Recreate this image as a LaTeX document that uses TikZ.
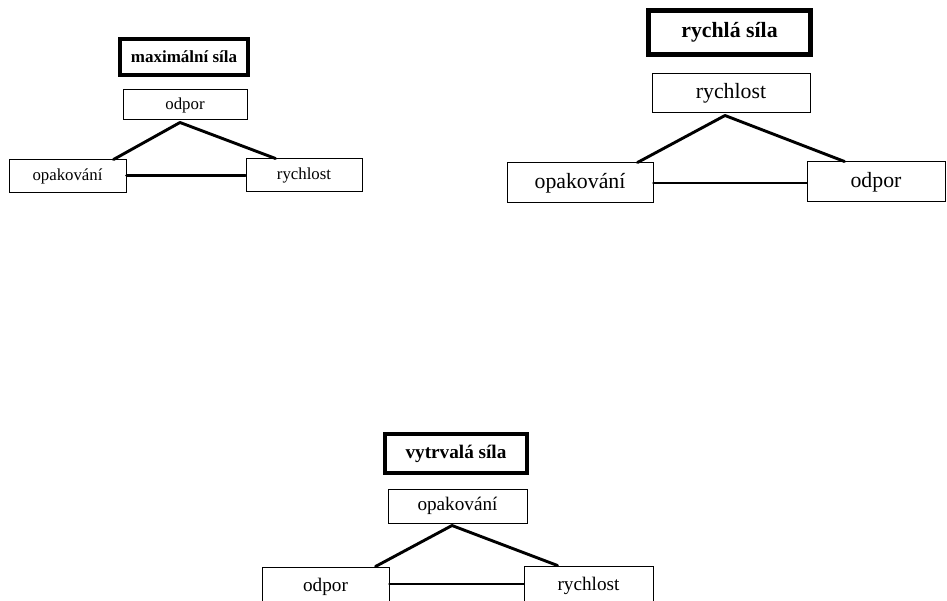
\documentclass[tikz,border=0pt]{standalone}
\usepackage{fontspec}
\setmainfont{Liberation Serif}
\begin{document}
\begin{tikzpicture}[x=1pt,y=-1pt,
  box/.style={draw=black,line width=1pt,inner sep=0pt,minimum width=#1},
  titlebox/.style={draw=black,inner sep=0pt,font=\bfseries},
  link/.style={line width=2.9pt,line cap=round},
  fa/.style={font=\fontsize{16.8}{19}\selectfont},
  fb/.style={font=\fontsize{21.8}{25}\selectfont},
  fc/.style={font=\fontsize{19.2}{22}\selectfont}]
\useasboundingbox (0,0) rectangle (947,601);
\clip (0,0) rectangle (947,601);
% diagram 1
\node[titlebox,line width=4pt,minimum width=128pt,minimum height=36pt,font=\bfseries\fontsize{17}{19}\selectfont] (t1) at (184,57) {maximální síla};
\node[box=124pt,minimum height=30pt,fa] (odpor1) at (185,105) {odpor};
\node[box=117pt,minimum height=33pt,fa] (opak1) at (67.5,176.5) {opakování};
\node[box=116pt,minimum height=33pt,fa] (rych1) at (304,175.5) {rychlost};
\draw[link] ([xshift=-5pt,yshift=-2pt]odpor1.south) -- ([xshift=-13pt]opak1.north east);
\draw[link] ([xshift=-5pt,yshift=-2pt]odpor1.south) -- ([xshift=30pt]rych1.north west);
\draw[link] ([yshift=1pt]opak1.east) -- ([yshift=1pt]opak1.east -| rych1.west);
% diagram 2
\node[titlebox,line width=5pt,minimum width=162pt,minimum height=44pt,font=\bfseries\fontsize{21.8}{25}\selectfont] (t2) at (729.5,32.5) {rychlá síla};
\node[box=158pt,minimum height=39pt,fb] (rych2) at (731,93.5) {rychlost};
\node[box=146pt,minimum height=40pt,fb] (opak2) at (580,183) {opakování};
\node[box=138pt,minimum height=40pt,fb] (odpor2) at (876,182) {odpor};
\draw[link] ([xshift=-6pt,yshift=-2pt]rych2.south) -- ([xshift=-16pt]opak2.north east);
\draw[link] ([xshift=-6pt,yshift=-2pt]rych2.south) -- ([xshift=38pt]odpor2.north west);
\draw[link] (opak2.east) -- (opak2.east -| odpor2.west);
% diagram 3
\node[titlebox,line width=4pt,minimum width=142pt,minimum height=39pt,font=\bfseries\fontsize{19.2}{22}\selectfont] (t3) at (456,453.5) {vytrvalá síla};
\node[box=139pt,minimum height=34pt,fc] (opak3) at (457.5,506) {opakování};
\node[box=127pt,minimum height=40pt,fc] (odpor3) at (325.5,587) {odpor};
\node[box=129pt,minimum height=40pt,fc] (rych3) at (588.5,586) {rychlost};
\draw[link] ([xshift=-5.5pt,yshift=-2pt]opak3.south) -- ([xshift=-14pt]odpor3.north east);
\draw[link] ([xshift=-5.5pt,yshift=-2pt]opak3.south) -- ([xshift=34pt]rych3.north west);
\draw[link] ([yshift=3pt]odpor3.east) -- ([yshift=3pt]odpor3.east -| rych3.west);
\end{tikzpicture}
\end{document}
